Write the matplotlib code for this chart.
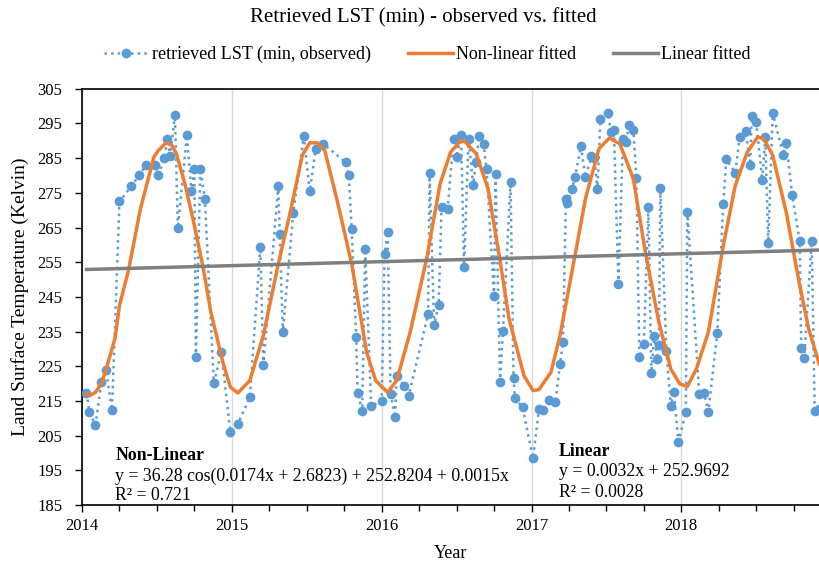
import matplotlib.pyplot as plt
import numpy as np
from matplotlib.ticker import MultipleLocator

plt.rcParams['font.family'] = ['Liberation Serif', 'DejaVu Serif']

# observed LST (decimal year, Kelvin)
obs_year = [2014.03, 2014.05, 2014.09, 2014.13, 2014.16, 2014.20, 2014.25, 2014.33, 2014.38, 2014.43,
            2014.49, 2014.51, 2014.55, 2014.57, 2014.59, 2014.62, 2014.64, 2014.70, 2014.73, 2014.75,
            2014.76, 2014.79, 2014.82, 2014.88, 2014.93, 2014.99, 2015.04, 2015.12, 2015.19, 2015.21,
            2015.31, 2015.32, 2015.34, 2015.41, 2015.48, 2015.52, 2015.56, 2015.61, 2015.76, 2015.78,
            2015.80, 2015.83, 2015.84, 2015.87, 2015.89, 2015.93, 2016.00, 2016.02, 2016.04, 2016.06,
            2016.09, 2016.10, 2016.15, 2016.18, 2016.31, 2016.32, 2016.35, 2016.38, 2016.40, 2016.44,
            2016.48, 2016.50, 2016.53, 2016.55, 2016.58, 2016.61, 2016.63, 2016.65, 2016.68, 2016.70,
            2016.75, 2016.76, 2016.79, 2016.81, 2016.86, 2016.88, 2016.89, 2016.94, 2017.01, 2017.05,
            2017.08, 2017.12, 2017.16, 2017.19, 2017.21, 2017.23, 2017.24, 2017.27, 2017.29, 2017.33,
            2017.36, 2017.40, 2017.42, 2017.44, 2017.46, 2017.51, 2017.53, 2017.55, 2017.58, 2017.61,
            2017.63, 2017.65, 2017.68, 2017.70, 2017.72, 2017.75, 2017.78, 2017.80, 2017.82, 2017.84,
            2017.85, 2017.86, 2017.90, 2017.93, 2017.95, 2017.98, 2018.03, 2018.04, 2018.12, 2018.15,
            2018.18, 2018.24, 2018.28, 2018.30, 2018.36, 2018.39, 2018.43, 2018.46, 2018.47, 2018.50,
            2018.54, 2018.56, 2018.58, 2018.61, 2018.68, 2018.70, 2018.74, 2018.79, 2018.80, 2018.82,
            2018.87, 2018.89, 2018.92]
obs_lst = [217.3, 211.7, 208.1, 220.6, 224.0, 212.4, 272.5, 276.9, 280.0, 283.1,
           283.1, 280.2, 285.0, 290.4, 285.6, 297.5, 264.8, 291.7, 275.4, 281.9,
           227.6, 281.9, 273.1, 220.2, 229.0, 206.2, 208.4, 216.1, 259.3, 225.4,
           276.9, 263.2, 234.8, 269.2, 291.3, 275.4, 287.7, 289.1, 283.8, 280.0,
           264.6, 233.4, 217.3, 212.2, 258.7, 213.5, 215.1, 257.4, 263.6, 217.0,
           210.3, 222.1, 219.4, 216.5, 240.1, 280.8, 236.9, 242.7, 270.9, 270.4,
           290.6, 285.3, 291.7, 253.6, 290.6, 277.3, 283.8, 291.3, 289.1, 281.9,
           245.2, 280.5, 220.4, 235.3, 278.1, 221.5, 215.8, 213.2, 198.5, 212.7,
           212.5, 215.4, 214.6, 225.7, 231.9, 273.3, 272.1, 276.0, 279.5, 288.5,
           279.5, 285.6, 285.0, 276.0, 296.2, 298.1, 292.5, 293.0, 248.7, 290.6,
           289.6, 294.4, 293.0, 279.2, 227.6, 231.4, 270.9, 223.1, 233.8, 227.1,
           231.0, 276.3, 229.5, 213.5, 217.7, 203.3, 211.7, 269.6, 217.0, 217.3,
           211.9, 234.6, 271.8, 284.6, 280.8, 291.1, 292.7, 283.1, 297.1, 295.4,
           278.6, 291.1, 260.6, 298.1, 286.0, 289.4, 274.4, 261.0, 230.2, 227.3,
           261.0, 212.2, 212.7]

# non-linear fitted curve
fit_year = [2014.03, 2014.05, 2014.09, 2014.13, 2014.16, 2014.22, 2014.25, 2014.31, 2014.39, 2014.48,
            2014.51, 2014.56, 2014.60, 2014.63, 2014.69, 2014.75, 2014.81, 2014.86, 2014.94, 2014.99,
            2015.04, 2015.12, 2015.21, 2015.31, 2015.39, 2015.47, 2015.52, 2015.57, 2015.62, 2015.70,
            2015.80, 2015.90, 2015.96, 2016.04, 2016.10, 2016.19, 2016.30, 2016.39, 2016.46, 2016.53,
            2016.56, 2016.63, 2016.71, 2016.79, 2016.85, 2016.95, 2017.01, 2017.05, 2017.13, 2017.19,
            2017.29, 2017.36, 2017.45, 2017.52, 2017.59, 2017.68, 2017.76, 2017.85, 2017.93, 2017.99,
            2018.04, 2018.10, 2018.18, 2018.28, 2018.36, 2018.44, 2018.51, 2018.55, 2018.61, 2018.70,
            2018.79, 2018.85, 2018.92]
fit_lst = [217.0, 216.5, 217.5, 220.0, 224.0, 233.0, 242.5, 252.6, 270.4, 285.3,
           287.2, 289.4, 288.7, 286.3, 277.1, 265.6, 253.1, 240.6, 226.2, 219.0,
           217.3, 220.9, 233.8, 254.5, 269.4, 285.8, 289.4, 289.4, 287.2, 273.3,
           254.5, 229.0, 220.9, 217.5, 220.9, 234.8, 256.0, 277.6, 286.7, 290.1,
           289.6, 286.3, 276.2, 255.5, 238.7, 222.3, 218.0, 218.3, 223.3, 233.8,
           256.9, 273.3, 287.7, 290.8, 289.1, 279.0, 257.9, 237.7, 224.2, 219.9,
           219.2, 224.2, 234.8, 259.8, 277.1, 286.7, 291.1, 290.6, 285.8, 269.4,
           248.3, 235.8, 225.7]

# linear fitted line (end points)
lin_year = [2014.03, 2018.92]
lin_lst = [252.9, 258.5]

blue = '#5B9BD5'
orange = '#ED7D31'
grey = '#7F7F7F'

fig = plt.figure(figsize=(8.2, 5.65), dpi=100)
ax = fig.add_axes([0.1, 0.106, 0.899, 0.737])

ax.plot(obs_year, obs_lst, linestyle=':', color=blue, lw=1.8, marker='o', ms=6,
        markeredgecolor=blue, label='retrieved LST (min, observed)', zorder=3)
ax.plot(fit_year, fit_lst, color=orange, lw=2.5, label='Non-linear fitted', zorder=4)
ax.plot(lin_year, lin_lst, color=grey, lw=2.5, label='Linear fitted', zorder=4)

ax.set_xlim(2014, 2018.92)
ax.set_ylim(185, 305)
ax.set_xticks([2014, 2015, 2016, 2017, 2018])
ax.xaxis.set_minor_locator(MultipleLocator(0.25))
ax.set_yticks(np.arange(185, 306, 10))
ax.tick_params(axis='both', which='major', direction='out', length=5, labelsize=12, width=1)
ax.tick_params(axis='x', which='major', pad=4)
ax.tick_params(axis='y', which='major', pad=9)
ax.tick_params(axis='x', which='minor', direction='out', length=4, width=1)
ax.grid(axis='x', which='major', color='#D9D9D9', lw=1)
ax.set_axisbelow(True)
for s in ['left', 'bottom', 'top']:
    ax.spines[s].set_color('black')
    ax.spines[s].set_linewidth(1.2)
ax.spines['right'].set_visible(False)

ax.set_xlabel('Year', fontsize=13, labelpad=8)
ax.set_ylabel('Land Surface Temperature (Kelvin)', fontsize=14, labelpad=6)
fig.text(0.516, 0.968, 'Retrieved LST (min) - observed vs. fitted', ha='center', va='center', fontsize=15)

ax.legend(loc='center', bbox_to_anchor=(0.521, 0.903), bbox_transform=fig.transFigure,
          ncol=3, frameon=False, fontsize=13, handlelength=2.5, columnspacing=2.0, handletextpad=0.2)

ax.text(0.045, 0.12, 'Non-Linear', transform=ax.transAxes, fontsize=12.8, fontweight='bold', va='center')
ax.text(0.045, 0.07, 'y = 36.28 cos(0.0174x + 2.6823) + 252.8204 + 0.0015x',
        transform=ax.transAxes, fontsize=12.8, va='center')
ax.text(0.045, 0.024, 'R² = 0.721', transform=ax.transAxes, fontsize=12.8, va='center')
ax.text(0.647, 0.128, 'Linear', transform=ax.transAxes, fontsize=12.8, fontweight='bold', va='center')
ax.text(0.647, 0.08, 'y = 0.0032x + 252.9692', transform=ax.transAxes, fontsize=12.8, va='center')
ax.text(0.647, 0.03, 'R² = 0.0028', transform=ax.transAxes, fontsize=12.8, va='center')

fig.savefig('out.png', dpi=100)
